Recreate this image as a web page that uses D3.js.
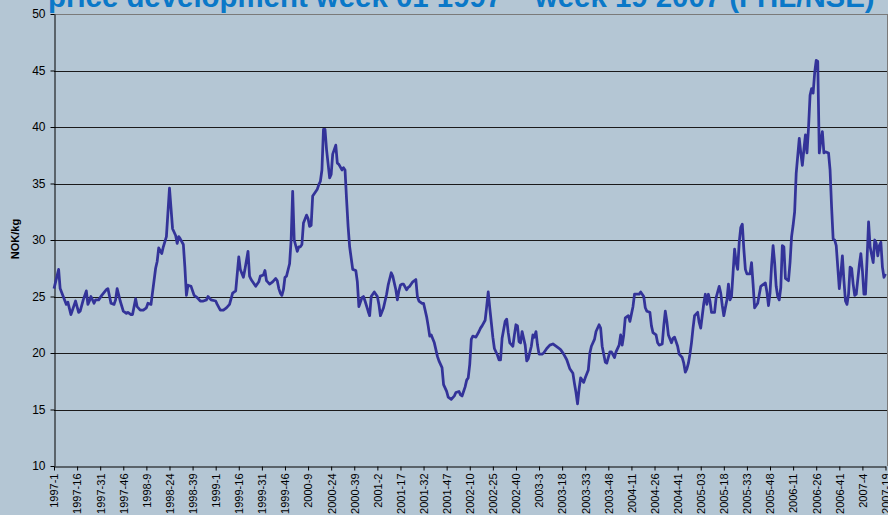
<!DOCTYPE html>
<html>
<head>
<meta charset="utf-8">
<script src="https://cdn.jsdelivr.net/npm/d3@7"></script>
<style>
  html, body { margin: 0; padding: 0; background: #B4C6D4; }
  svg { display: block; }
</style>
</head>
<body>
<div id="chart"></div>
<script>
// weekly salmon price, NOK/kg, [week of year, price]
const years = [1997, 1998, 1999, 2000, 2001, 2002, 2003, 2004, 2005, 2006, 2007];
const weeksInYear = [52, 53, 52, 52, 52, 52, 52, 53, 52, 52, 19];

const price1997 = [[1,25.7],[4,27.4],[5,25.7],[7,25.0],[9,24.3],[10,24.5],[12,23.4],[15,24.6],[17,23.6],[18,23.7],[20,24.7],[22,25.5],[23,24.3],[24,24.6],[25,25.0],[27,24.4],[28,24.7],[30,24.7],[32,25.1],[35,25.6],[36,25.7],[38,24.4],[40,24.3],[41,24.7],[42,25.7],[44,24.6],[46,23.7],[48,23.5],[49,23.6],[51,23.4],[52,23.4]];
const price1998 = [[2,24.8],[3,24.1],[5,23.8],[7,23.8],[9,24.0],[10,24.4],[12,24.3],[15,27.5],[16,28.1],[17,29.3],[19,28.8],[20,29.4],[22,30.3],[24,34.6],[25,32.8],[26,31.0],[28,30.4],[29,29.7],[30,30.3],[31,30.1],[33,29.6],[34,27.6],[35,25.1],[36,26.0],[38,25.9],[40,25.1],[42,24.9],[44,24.6],[46,24.6],[48,24.7],[49,25.0],[51,24.7]];
const price1999 = [[1,24.6],[2,24.3],[4,23.8],[6,23.8],[8,24.0],[10,24.3],[12,25.3],[14,25.5],[16,28.5],[17,27.4],[19,26.7],[20,27.4],[22,29.0],[23,26.8],[24,26.5],[25,26.3],[27,25.9],[29,26.3],[30,26.8],[32,26.9],[33,27.3],[34,26.4],[36,26.1],[38,26.3],[40,26.6],[41,26.4],[42,25.7],[43,25.3],[44,25.1],[45,25.6],[46,26.7],[47,26.8],[49,27.9],[50,30.0],[51,34.3],[52,30.0]];
const price2000 = [[2,29.0],[3,29.4],[4,29.4],[5,29.6],[6,31.5],[8,32.2],[9,31.9],[10,31.2],[11,31.3],[12,33.9],[14,34.3],[15,34.5],[16,34.9],[17,35.2],[18,36.2],[19,39.8],[20,39.8],[21,38.0],[23,35.5],[24,35.8],[25,37.6],[27,38.4],[28,36.8],[29,36.7],[31,36.2],[32,36.4],[33,36.2],[34,33.6],[35,31.2],[36,29.4],[38,27.4],[40,27.3],[41,26.3],[42,24.1],[44,24.9],[45,25.0],[46,24.6],[48,23.7],[49,23.3],[50,25.0],[52,25.4]];
const price2001 = [[2,25.0],[3,24.3],[4,23.3],[6,24.0],[8,25.2],[9,26.0],[11,27.1],[12,26.8],[14,25.6],[15,24.7],[16,25.5],[17,26.0],[18,26.1],[19,26.1],[21,25.6],[22,25.8],[23,25.9],[25,26.3],[27,26.5],[28,25.0],[29,24.6],[31,24.4],[32,24.4],[34,23.2],[35,22.4],[36,21.5],[37,21.6],[39,20.9],[41,19.7],[42,19.3],[44,18.7],[45,17.2],[47,16.6],[48,16.1],[50,15.9],[52,16.2]];
const price2002 = [[1,16.5],[3,16.6],[4,16.3],[5,16.2],[7,17.0],[8,17.6],[9,17.8],[10,19.0],[11,21.2],[12,21.5],[14,21.4],[16,21.9],[17,22.2],[18,22.4],[20,22.9],[21,24.1],[22,25.4],[23,24.0],[24,22.7],[25,21.4],[26,20.4],[28,19.8],[29,19.4],[30,19.4],[31,21.3],[33,22.8],[34,23.0],[35,21.8],[36,20.9],[38,20.6],[39,21.6],[40,22.5],[41,22.4],[42,21.0],[43,20.9],[44,21.9],[46,20.7],[47,19.3],[48,19.5],[50,20.6],[51,21.6],[52,21.4]];
const price2003 = [[1,21.9],[2,20.7],[3,19.9],[5,19.9],[6,20.0],[8,20.4],[10,20.7],[12,20.8],[14,20.6],[16,20.4],[17,20.3],[19,19.9],[21,19.4],[22,19.0],[23,18.6],[25,18.2],[26,17.3],[27,16.5],[28,15.5],[29,16.8],[30,17.8],[32,17.4],[33,17.8],[35,18.5],[36,20.0],[37,20.6],[39,21.2],[40,21.9],[42,22.5],[43,22.2],[44,20.6],[46,19.2],[47,19.1],[49,20.1],[50,20.1],[52,19.6]];
const price2004 = [[1,20.1],[3,20.7],[4,21.6],[5,20.7],[6,21.6],[7,23.1],[9,23.3],[10,22.8],[12,24.1],[13,25.2],[14,25.2],[16,25.2],[17,25.4],[19,25.0],[20,24.0],[21,23.7],[23,23.6],[24,22.4],[25,21.8],[27,21.6],[28,20.9],[29,20.7],[31,20.8],[32,22.4],[33,23.7],[34,22.8],[35,21.6],[37,20.9],[38,21.3],[39,21.4],[41,20.6],[42,19.9],[44,19.6],[45,19.1],[46,18.3],[47,18.6],[48,19.1],[49,19.9],[50,20.9],[51,22.2],[52,23.3]];
const price2005 = [[1,23.6],[2,22.7],[3,22.2],[4,23.3],[5,24.4],[6,25.2],[7,24.3],[8,25.2],[9,24.6],[10,23.6],[12,23.6],[13,24.9],[15,25.9],[16,25.3],[17,24.2],[18,23.3],[19,24.0],[20,24.7],[21,26.1],[22,24.7],[23,25.0],[24,27.1],[25,29.2],[26,28.0],[27,27.4],[28,29.8],[29,31.1],[30,31.4],[31,29.2],[32,27.4],[33,27.0],[35,27.0],[36,28.0],[37,26.1],[38,24.0],[40,24.4],[42,25.9],[43,26.0],[45,26.2],[46,25.4],[47,24.2],[48,25.3],[49,27.7],[50,29.5],[51,28.0],[52,25.9]];
const price2006 = [[1,25.0],[2,24.7],[3,25.8],[4,29.5],[5,29.4],[6,26.6],[8,26.4],[9,28.0],[10,30.3],[11,31.3],[12,32.5],[13,35.9],[15,39.0],[16,37.7],[17,36.6],[18,38.0],[19,39.3],[20,37.7],[21,39.9],[22,42.8],[23,43.4],[24,43.0],[25,44.8],[26,45.9],[27,45.8],[28,37.7],[29,38.8],[30,39.6],[31,37.7],[32,37.8],[34,37.7],[35,36.2],[36,32.9],[37,30.1],[38,30.0],[39,29.5],[40,27.6],[41,25.7],[42,27.0],[43,28.6],[44,26.4],[45,24.6],[46,24.3],[47,25.2],[48,27.6],[49,27.5],[50,26.1],[51,25.1],[52,25.2]];
const price2007 = [[2,27.8],[3,28.8],[4,27.3],[5,25.2],[6,25.2],[7,28.2],[8,31.6],[9,29.4],[11,28.0],[12,30.0],[13,29.7],[14,28.6],[15,29.5],[16,29.8],[17,27.6],[18,26.7],[19,27.0]];

const pricesByYear = [price1997, price1998, price1999, price2000, price2001, price2002,
                      price2003, price2004, price2005, price2006, price2007];

const tickLabels = ["1997-1","1997-16","1997-31","1997-46","1998-9","1998-24","1998-39",
  "1999-1","1999-16","1999-31","1999-46","2000-9","2000-24","2000-39",
  "2001-2","2001-17","2001-32","2001-47","2002-10","2002-25","2002-40",
  "2003-3","2003-18","2003-33","2003-48","2004-11","2004-26","2004-41",
  "2005-03","2005-18","2005-33","2005-48","2006-11","2006-26","2006-41",
  "2007-4","2007-19"];

const yTicks = [10, 15, 20, 25, 30, 35, 40, 45, 50];
const titleText = "price development week 01 1997 \u2013 week 19 2007 (FHL/NSE)";
const yTitle = "NOK/kg";

// ---- layout
const W = 888, H = 515;
const plotL = 54, plotR = 885.5, plotT = 14, plotB = 466;
const lineColor = "#333399";
const fontFam = "'Liberation Sans', Arial, sans-serif";

// running week index from 1997-1
const yearStart = [];
weeksInYear.reduce((acc, n, i) => { yearStart[i] = acc; return acc + n; }, 0);
const totalWeeks = d3.sum(weeksInYear);

const points = [];
pricesByYear.forEach((arr, yi) => {
  arr.forEach(([wk, v]) => points.push({ idx: yearStart[yi] + wk - 1, v }));
});

const svg = d3.select('#chart').append('svg')
  .attr('width', W)
  .attr('height', H);

svg.append('rect')
  .attr('width', W).attr('height', H)
  .attr('fill', '#B4C6D4');

const x = d3.scaleLinear()
  .domain([0, totalWeeks - 1])
  .range([plotL, plotR]);

const y = d3.scaleLinear()
  .domain([10, 50])
  .range([plotB, plotT]);

// gridlines
svg.append('g')
  .selectAll('line')
  .data(yTicks.filter(t => t > 10))
  .enter()
  .append('line')
    .attr('x1', plotL).attr('x2', 887)
    .attr('y1', d => Math.round(y(d)) + 0.5)
    .attr('y2', d => Math.round(y(d)) + 0.5)
    .attr('stroke', d => d === 50 ? '#7a7a7a' : '#1a1a1a')
    .attr('stroke-width', 1);

// right edge of plot area
svg.append('line')
  .attr('x1', 887.5).attr('x2', 887.5)
  .attr('y1', y(50)).attr('y2', plotB)
  .attr('stroke', '#7a7a7a');

// y axis
const yAxis = svg.append('g')
  .attr('transform', `translate(${plotL + 0.5},0)`)
  .call(d3.axisLeft(y).tickValues(yTicks).tickSize(4).tickSizeOuter(0));
yAxis.select('.domain').attr('stroke', '#000');
yAxis.selectAll('.tick line').attr('stroke', '#000');
yAxis.selectAll('text')
  .attr('x', -9)
  .style('font-family', fontFam)
  .style('font-size', '12px')
  .style('fill', '#000');

// x axis
const xAxis = svg.append('g')
  .attr('transform', `translate(0,${plotB + 0.5})`)
  .call(d3.axisBottom(x)
    .tickValues(d3.range(0, totalWeeks, 15))
    .tickFormat((d, i) => tickLabels[i])
    .tickSize(4)
    .tickSizeOuter(0));
xAxis.select('.domain').attr('stroke', '#000');
xAxis.selectAll('.tick line').attr('stroke', '#000');
xAxis.selectAll('text')
  .attr('transform', 'rotate(-90)')
  .attr('x', -7)
  .attr('y', 0)
  .attr('dy', '0.35em')
  .style('text-anchor', 'end')
  .style('font-family', fontFam)
  .style('font-size', '11px')
  .style('fill', '#000');

// price line
const line = d3.line()
  .x(d => x(d.idx))
  .y(d => y(d.v));

svg.append('path')
  .datum(points)
  .attr('d', line)
  .attr('fill', 'none')
  .attr('stroke', lineColor)
  .attr('stroke-width', 2.75)
  .attr('stroke-linejoin', 'round');

// y title
svg.append('text')
  .attr('transform', 'translate(19,239) rotate(-90)')
  .attr('text-anchor', 'middle')
  .style('font-family', fontFam)
  .style('font-size', '11px')
  .style('font-weight', 'bold')
  .style('fill', '#000')
  .text(yTitle);

// title (top part is cut off in the original)
svg.append('text')
  .attr('x', 48)
  .attr('y', 7)
  .style('font-family', fontFam)
  .style('font-size', '29.4px')
  .style('font-weight', 'bold')
  .style('fill', '#0A78C8')
  .text(titleText);
</script>
</body>
</html>
